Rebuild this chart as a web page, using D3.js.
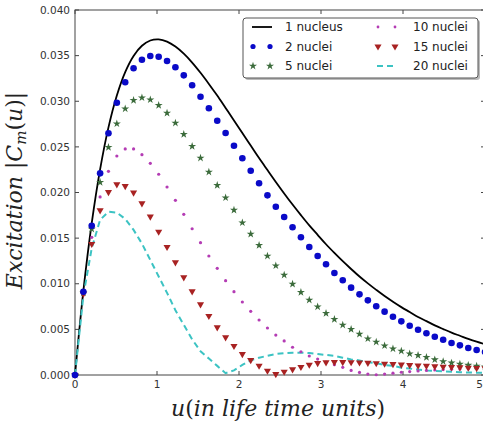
<!DOCTYPE html>
<html>
<head>
<meta charset="utf-8">
<script src="https://cdn.jsdelivr.net/npm/d3@7"></script>
<style>
  body { margin: 0; background: #fff; }
  svg { display: block; font-family: "DejaVu Sans", sans-serif; }
</style>
</head>
<body>
<div id="chart"></div>
<script>
// u sampled on 50 points between 0 and 5 (life time units)
var nPts = 50;
var uMax = 5;

var oneNucleus = [0, 0.00921, 0.01664, 0.02254, 0.02714, 0.03063, 0.0332, 0.03497, 0.03608, 0.03666,
  0.03678, 0.03654, 0.03599, 0.03521, 0.03424, 0.03312, 0.0319, 0.03062, 0.02926, 0.0279,
  0.02651, 0.02514, 0.02377, 0.02246, 0.02116, 0.0199, 0.01868, 0.01752, 0.0164, 0.01536,
  0.01433, 0.01338, 0.01247, 0.01162, 0.01079, 0.01004, 0.00933, 0.00865, 0.00803, 0.00744,
  0.0069, 0.00636, 0.00591, 0.00544, 0.00503, 0.00464, 0.0043, 0.00396, 0.00365, 0.00337];

var twoNuclei = [0, 0.00913, 0.01636, 0.0221, 0.02649, 0.02984, 0.03208, 0.03361, 0.03455, 0.03496,
  0.03488, 0.03441, 0.03372, 0.03284, 0.03175, 0.0305, 0.02923, 0.02787, 0.02652, 0.02513,
  0.02375, 0.02239, 0.02101, 0.01969, 0.01844, 0.01732, 0.01619, 0.01509, 0.01403, 0.01304,
  0.01213, 0.01118, 0.01038, 0.00957, 0.00884, 0.00818, 0.00753, 0.00694, 0.00639, 0.00588,
  0.0054, 0.00496, 0.00457, 0.0042, 0.00387, 0.00351, 0.00325, 0.00296, 0.00274, 0.00252];

var fiveNuclei = [0, 0.009, 0.016, 0.02112, 0.02495, 0.02754, 0.02918, 0.0301, 0.03039, 0.03017,
  0.02956, 0.02871, 0.02762, 0.02638, 0.02506, 0.02378, 0.02225, 0.02079, 0.01943, 0.01808,
  0.01669, 0.01545, 0.01421, 0.01304, 0.01198, 0.01096, 0.00997, 0.00906, 0.00822, 0.00748,
  0.00676, 0.0061, 0.00548, 0.00501, 0.00449, 0.00398, 0.00362, 0.00321, 0.00288, 0.00263,
  0.00233, 0.00216, 0.00194, 0.00168, 0.00148, 0.00133, 0.0012, 0.00108, 0.00098, 0.0009];

var tenNuclei = [0, 0.0089, 0.01509, 0.01951, 0.02232, 0.024, 0.02477, 0.02477, 0.02414, 0.0232,
  0.022, 0.0206, 0.01914, 0.01761, 0.01603, 0.0145, 0.01304, 0.01169, 0.01034, 0.00913,
  0.008, 0.00698, 0.00603, 0.00515, 0.00438, 0.00373, 0.00304, 0.00255, 0.00208, 0.00175,
  0.00142, 0.00113, 0.00084, 0.0005, 0.00028, 0.0001, 0.00003, 0.0001, 0.0002, 0.0003,
  0.00038, 0.00045, 0.0005, 0.00055, 0.0006, 0.00063, 0.00066, 0.00068, 0.0007, 0.0007];

var fifteenNuclei = [0, 0.0089, 0.01436, 0.01805, 0.02005, 0.0209, 0.02071, 0.01998, 0.01882, 0.01735,
  0.0157, 0.01403, 0.01235, 0.01071, 0.00917, 0.00775, 0.00647, 0.00523, 0.00413, 0.00318,
  0.0023, 0.00164, 0.00102, 0.00047, 0.0001, 0.00036, 0.00062, 0.00088, 0.00113, 0.0013,
  0.00138, 0.00142, 0.00142, 0.0014, 0.00137, 0.00133, 0.00129, 0.00124, 0.00119, 0.00114,
  0.00109, 0.00104, 0.001, 0.00095, 0.00091, 0.00087, 0.00083, 0.0008, 0.00076, 0.00073];

var twentyNuclei = [0, 0.0087, 0.0139, 0.0170, 0.0179, 0.0178, 0.0171, 0.0159, 0.0144, 0.0126,
  0.0108, 0.0090, 0.0071, 0.0055, 0.0039, 0.0026, 0.0018, 0.0010, 0.0002, 0.0005,
  0.0011, 0.0016, 0.0019, 0.0021, 0.0023, 0.0024, 0.00245, 0.00245, 0.0024, 0.0023,
  0.0022, 0.0021, 0.0019, 0.0017, 0.0016, 0.0014, 0.0013, 0.0011, 0.0010, 0.0008,
  0.0007, 0.0006, 0.0005, 0.00045, 0.0004, 0.00035, 0.0003, 0.00028, 0.00026, 0.00024];

var xTicks = [0, 1, 2, 3, 4, 5];
var yTicks = [0, 0.005, 0.01, 0.015, 0.02, 0.025, 0.03, 0.035, 0.04];

var uValues = d3.range(nPts).map(function(k) { return k * uMax / (nPts - 1); });

var margin = {top: 10, right: -2, bottom: 48, left: 75},
    width = 483 - margin.left - margin.right,
    height = 423 - margin.top - margin.bottom;

var svg = d3.select("#chart")
  .append("svg")
    .attr("width", 483)
    .attr("height", 423)
  .append("g")
    .attr("transform", "translate(" + margin.left + "," + margin.top + ")");

var x = d3.scaleLinear().domain([0, 5]).range([0, width]);
var y = d3.scaleLinear().domain([0, 0.04]).range([height, 0]);

function pts(vals) {
  return vals.map(function(v, i) { return {u: uValues[i], v: v}; });
}

// frame
svg.append("rect")
  .attr("x", 0).attr("y", 0)
  .attr("width", width).attr("height", height)
  .attr("fill", "none")
  .attr("stroke", "#444")
  .attr("stroke-width", 1);

// ticks, pointing inward on all four sides
var tickCol = "#444";
svg.selectAll(".xt").data(xTicks).enter().append("line")
  .attr("x1", function(d) { return x(d); }).attr("x2", function(d) { return x(d); })
  .attr("y1", height).attr("y2", height - 4)
  .attr("stroke", tickCol);
svg.selectAll(".xt2").data(xTicks).enter().append("line")
  .attr("x1", function(d) { return x(d); }).attr("x2", function(d) { return x(d); })
  .attr("y1", 0).attr("y2", 4)
  .attr("stroke", tickCol);
svg.selectAll(".yt").data(yTicks).enter().append("line")
  .attr("x1", 0).attr("x2", 4)
  .attr("y1", function(d) { return y(d); }).attr("y2", function(d) { return y(d); })
  .attr("stroke", tickCol);
svg.selectAll(".yt2").data(yTicks).enter().append("line")
  .attr("x1", width - 4).attr("x2", width)
  .attr("y1", function(d) { return y(d); }).attr("y2", function(d) { return y(d); })
  .attr("stroke", tickCol);

svg.selectAll(".xl").data(xTicks).enter().append("text")
  .attr("x", function(d) { return d === 5 ? 408 : x(d); })
  .attr("y", height + 13)
  .attr("text-anchor", function(d) { return d === 5 ? "end" : "middle"; })
  .style("font-size", "10.5px")
  .attr("fill", "#333")
  .text(function(d) { return d; });

svg.selectAll(".yl").data(yTicks).enter().append("text")
  .attr("x", -5)
  .attr("y", function(d) { return y(d); })
  .attr("dy", "0.35em")
  .attr("text-anchor", "end")
  .style("font-size", "10.5px")
  .attr("fill", "#333")
  .text(function(d) { return d3.format(".3f")(d); });

// series
var line = d3.line()
  .x(function(d) { return x(d.u); })
  .y(function(d) { return y(d.v); });

svg.append("path")
  .datum(pts(oneNucleus))
  .attr("d", line.curve(d3.curveCatmullRom))
  .attr("fill", "none")
  .attr("stroke", "#000")
  .attr("stroke-width", 1.8);

svg.append("path")
  .datum(pts(twentyNuclei))
  .attr("d", line.curve(d3.curveLinear))
  .attr("fill", "none")
  .attr("stroke", "#3cc3c3")
  .attr("stroke-width", 2)
  .attr("stroke-dasharray", "6,4");

var star = d3.symbol().type(d3.symbolStar).size(20);
var tri = d3.symbol().type(d3.symbolTriangle).size(22);

svg.append("g").selectAll("path")
  .data(pts(fiveNuclei)).enter().append("path")
    .attr("d", star)
    .attr("transform", function(d) { return "translate(" + x(d.u) + "," + y(d.v) + ")"; })
    .attr("fill", "#3b6b3b");

svg.append("g").selectAll("circle")
  .data(pts(tenNuclei)).enter().append("circle")
    .attr("cx", function(d) { return x(d.u); })
    .attr("cy", function(d) { return y(d.v); })
    .attr("r", 1.6)
    .attr("fill", "#b43cb4");

svg.append("g").selectAll("path")
  .data(pts(fifteenNuclei)).enter().append("path")
    .attr("d", tri)
    .attr("transform", function(d) { return "translate(" + x(d.u) + "," + y(d.v) + ") rotate(180)"; })
    .attr("fill", "#a82222");

svg.append("g").selectAll("circle")
  .data(pts(twoNuclei)).enter().append("circle")
    .attr("cx", function(d) { return x(d.u); })
    .attr("cy", function(d) { return y(d.v); })
    .attr("r", 3.3)
    .attr("fill", "#0a0ac8");

// legend
var lg = svg.append("g").attr("transform", "translate(168,8)");
lg.append("rect")
  .attr("x", 2).attr("y", 2).attr("width", 235).attr("height", 60)
  .attr("rx", 3).attr("fill", "#bbb");
lg.append("rect")
  .attr("x", 0).attr("y", 0).attr("width", 235).attr("height", 60)
  .attr("rx", 3).attr("fill", "#fff").attr("stroke", "#555").attr("stroke-width", 1);

var legendItems = [
  {label: "1 nucleus", kind: "line", col: 0, row: 0},
  {label: "2 nuclei", kind: "circle", col: 0, row: 1},
  {label: "5 nuclei", kind: "star", col: 0, row: 2},
  {label: "10 nuclei", kind: "dot", col: 1, row: 0},
  {label: "15 nuclei", kind: "tri", col: 1, row: 1},
  {label: "20 nuclei", kind: "dash", col: 1, row: 2}
];

legendItems.forEach(function(it) {
  var gx = it.col === 0 ? 9 : 134;
  var gy = 9 + it.row * 19.5;
  var g = lg.append("g").attr("transform", "translate(" + gx + "," + gy + ")");
  if (it.kind === "line") {
    g.append("line").attr("x1", 0).attr("x2", 20).attr("y1", 0).attr("y2", 0)
      .attr("stroke", "#000").attr("stroke-width", 1.8);
  } else if (it.kind === "dash") {
    g.append("line").attr("x1", 0).attr("x2", 20).attr("y1", 0).attr("y2", 0)
      .attr("stroke", "#3cc3c3").attr("stroke-width", 2).attr("stroke-dasharray", "6,4");
  } else {
    [1, 18].forEach(function(px) {
      if (it.kind === "circle") {
        g.append("circle").attr("cx", px).attr("cy", 0).attr("r", 2.6).attr("fill", "#0a0ac8");
      } else if (it.kind === "dot") {
        g.append("circle").attr("cx", px).attr("cy", 0).attr("r", 1.4).attr("fill", "#b43cb4");
      } else if (it.kind === "star") {
        g.append("path").attr("d", star).attr("transform", "translate(" + px + ",0)").attr("fill", "#3b6b3b");
      } else if (it.kind === "tri") {
        g.append("path").attr("d", tri).attr("transform", "translate(" + px + ",0) rotate(180)").attr("fill", "#a82222");
      }
    });
  }
  g.append("text")
    .attr("x", it.col === 0 ? 33 : 36)
    .attr("y", 0)
    .attr("dy", "0.35em")
    .style("font-size", "12px")
    .attr("fill", "#222")
    .text(it.label);
});

// axis labels, math style
var xlab = svg.append("text")
  .attr("x", width / 2 - 2)
  .attr("y", height + 41)
  .attr("text-anchor", "middle")
  .style("font-family", "'DejaVu Serif', serif")
  .style("font-size", "22px")
  .attr("fill", "#222");
xlab.append("tspan").style("font-style", "italic").text("u");
xlab.append("tspan").text("(");
xlab.append("tspan").style("font-style", "italic").text("in life time units");
xlab.append("tspan").text(")");

var ylab = svg.append("text")
  .attr("transform", "rotate(-90)")
  .attr("x", -(height / 2) + 2)
  .attr("y", -53)
  .attr("text-anchor", "middle")
  .style("font-family", "'DejaVu Serif', serif")
  .style("font-size", "22px")
  .attr("fill", "#222");
ylab.append("tspan").style("font-style", "italic").text("Excitation ");
ylab.append("tspan").text("|");
ylab.append("tspan").style("font-style", "italic").text("C");
ylab.append("tspan").style("font-style", "italic").style("font-size", "15px").attr("dy", 4).text("m");
ylab.append("tspan").attr("dy", -4).text("(");
ylab.append("tspan").style("font-style", "italic").text("u");
ylab.append("tspan").text(")|");
</script>
</body>
</html>
